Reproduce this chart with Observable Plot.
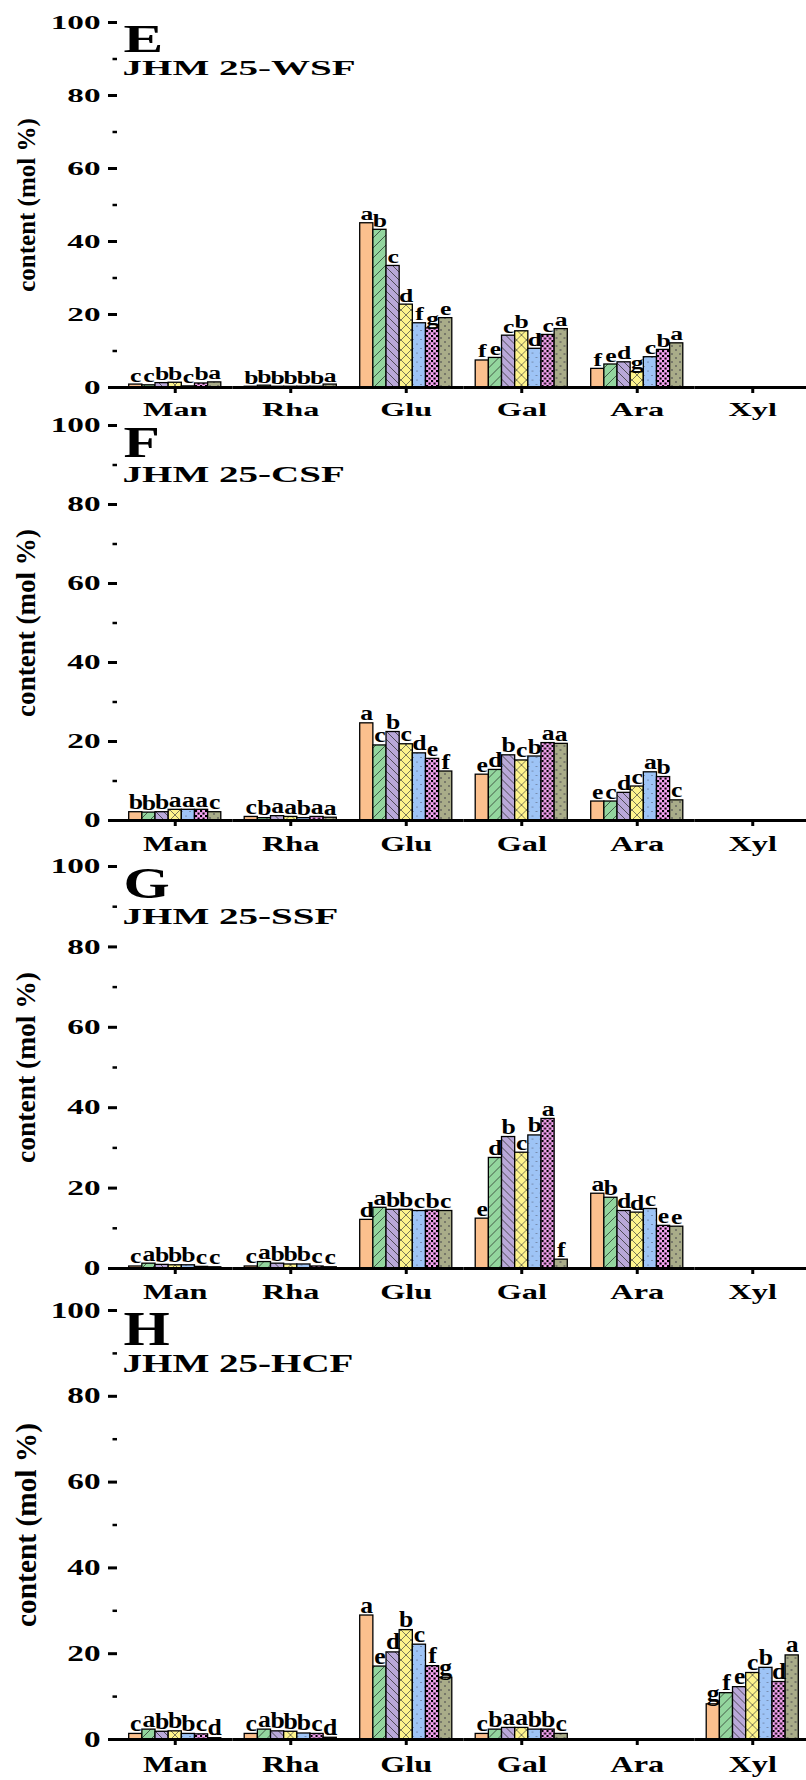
<!DOCTYPE html>
<html>
<head>
<meta charset="utf-8">
<script src="https://cdn.jsdelivr.net/npm/d3@7"></script>
<script src="https://cdn.jsdelivr.net/npm/@observablehq/plot@0.6"></script>
<style>
html, body { margin: 0; padding: 0; background: #fff; overflow: hidden; }
#wrap { position: relative; width: 806px; height: 1780px; overflow: hidden; background: #fff; }
.panel { position: absolute; left: 0; }
</style>
</head>
<body>
<svg width="0" height="0" style="position:absolute">
  <defs>
    <pattern id="pat0" width="8" height="8" patternUnits="userSpaceOnUse">
      <rect width="8" height="8" fill="#FBC08E"/>
    </pattern>
    <pattern id="pat1" width="10" height="10" patternUnits="userSpaceOnUse">
      <rect width="10" height="10" fill="#93D59E"/>
      <path d="M0,10 L10,0 M-2,2 L2,-2 M8,12 L12,8" stroke="#2f3a30" stroke-width="0.8"/>
    </pattern>
    <pattern id="pat2" width="8" height="8" patternUnits="userSpaceOnUse">
      <rect width="8" height="8" fill="#B9A8D9"/>
      <path d="M0,0 L8,8 M-2,6 L2,10 M6,-2 L10,2" stroke="#333" stroke-width="0.8"/>
    </pattern>
    <pattern id="pat3" width="10" height="10" patternUnits="userSpaceOnUse">
      <rect width="10" height="10" fill="#FDF38C"/>
      <path d="M0,0 L10,10 M10,0 L0,10" stroke="#444" stroke-width="0.7"/>
    </pattern>
    <pattern id="pat4" width="8" height="9" patternUnits="userSpaceOnUse">
      <rect width="8" height="9" fill="#9EC4F6"/>
      <circle cx="2" cy="2" r="0.55" fill="#445"/>
      <circle cx="6" cy="6.5" r="0.55" fill="#445"/>
    </pattern>
    <pattern id="pat5" width="5" height="5" patternUnits="userSpaceOnUse">
      <rect width="5" height="5" fill="#F4A2EF"/>
      <rect x="0" y="0" width="2.1" height="2.1" fill="#000"/>
      <rect x="2.5" y="2.5" width="2.1" height="2.1" fill="#000"/>
    </pattern>
    <pattern id="pat6" width="8" height="8" patternUnits="userSpaceOnUse">
      <rect width="8" height="8" fill="#A9AC89"/>
      <path d="M1,1 L3,3 M3,1 L1,3 M5,5 L7,7 M7,5 L5,7" stroke="#555" stroke-width="0.6"/>
    </pattern>
  </defs>
</svg>
<div id="wrap"></div>
<script>
// Categories and series
const sugars = ["Man", "Rha", "Glu", "Gal", "Ara", "Xyl"];
const treatments = ["T1", "T2", "T3", "T4", "T5", "T6", "T7"];

// Panel labels
const panelLetters = ["E", "F", "G", "H"];
const panelNames = ["JHM 25-WSF", "JHM 25-CSF", "JHM 25-SSF", "JHM 25-HCF"];
const yTicks = [0, 20, 40, 60, 80, 100];
const yMinorTicks = [10, 30, 50, 70, 90];
const yLabel = "content (mol %)";

// Values (mol %), rows = sugars, columns = treatments
const valuesE = [
  [0.8, 0.6, 1.2, 1.3, 0.3, 1.1, 1.4],
  [0.2, 0.5, 0.2, 0.2, 0.2, 0.2, 0.8],
  [45.0, 43.2, 33.3, 22.7, 17.6, 16.2, 19.0],
  [7.4, 8.1, 14.2, 15.4, 10.6, 14.4, 16.0],
  [5.1, 6.3, 6.9, 4.2, 8.3, 10.3, 12.1],
  [0, 0, 0, 0, 0, 0, 0]
];
const lettersE = [
  ["c", "c", "b", "b", "c", "b", "a"],
  ["b", "b", "b", "b", "b", "b", "a"],
  ["a", "b", "c", "d", "f", "g", "e"],
  ["f", "e", "c", "b", "d", "c", "a"],
  ["f", "e", "d", "g", "c", "b", "a"],
  ["", "", "", "", "", "", ""]
];

const valuesF = [
  [2.1, 2.0, 2.1, 2.7, 2.7, 2.7, 2.1],
  [0.9, 0.6, 1.1, 0.9, 0.6, 0.9, 0.7],
  [24.6, 19.0, 22.4, 19.3, 17.0, 15.6, 12.4],
  [11.6, 12.8, 16.5, 15.2, 16.2, 19.6, 19.4],
  [4.8, 4.8, 7.0, 8.6, 12.2, 11.0, 5.1],
  [0, 0, 0, 0, 0, 0, 0]
];
const lettersF = [
  ["b", "b", "b", "a", "a", "a", "c"],
  ["c", "b", "a", "a", "b", "a", "a"],
  ["a", "c", "b", "c", "d", "e", "f"],
  ["e", "d", "b", "c", "b", "a", "a"],
  ["e", "c", "d", "c", "a", "b", "c"],
  ["", "", "", "", "", "", ""]
];

const valuesG = [
  [0.5, 1.2, 0.9, 0.8, 0.8, 0.4, 0.3],
  [0.5, 1.6, 1.2, 1.0, 1.0, 0.5, 0.3],
  [12.1, 15.1, 14.6, 14.6, 14.3, 14.4, 14.3],
  [12.4, 27.5, 32.7, 28.8, 33.1, 37.2, 2.2],
  [18.6, 17.6, 14.3, 13.9, 14.8, 10.6, 10.4],
  [0, 0, 0, 0, 0, 0, 0]
];
const lettersG = [
  ["c", "a", "b", "b", "b", "c", "c"],
  ["c", "a", "b", "b", "b", "c", "c"],
  ["d", "a", "b", "b", "c", "b", "c"],
  ["e", "d", "b", "c", "b", "a", "f"],
  ["a", "b", "d", "d", "c", "e", "e"],
  ["", "", "", "", "", "", ""]
];

const valuesH = [
  [1.3, 2.3, 1.8, 1.9, 1.3, 1.2, 0.3],
  [1.3, 2.3, 1.9, 1.8, 1.4, 1.3, 0.4],
  [28.9, 17.0, 20.3, 25.5, 22.1, 17.1, 14.4],
  [1.3, 2.3, 2.7, 2.7, 2.3, 2.3, 1.3],
  [0, 0, 0, 0, 0, 0, 0],
  [8.2, 10.8, 12.2, 15.5, 16.7, 13.4, 19.6]
];
const lettersH = [
  ["c", "a", "b", "b", "b", "c", "d"],
  ["c", "a", "b", "b", "b", "c", "d"],
  ["a", "e", "d", "b", "c", "f", "g"],
  ["c", "b", "a", "a", "b", "b", "c"],
  ["", "", "", "", "", "", ""],
  ["g", "f", "e", "c", "b", "d", "a"]
];

const panelValues = [valuesE, valuesF, valuesG, valuesH];
const panelSig = [lettersE, lettersF, lettersG, lettersH];

// layout of the four stacked panels (page pixels)
const layout = [
  {top: 0,    mt: 22, zero: 387,  mb: 35},
  {top: 400,  mt: 25, zero: 820,  mb: 35},
  {top: 840,  mt: 26, zero: 1268, mb: 35},
  {top: 1280, mt: 30, zero: 1739, mb: 41}
];

const wrap = document.getElementById("wrap");

function stretchText(svg, k) {
  svg.querySelectorAll("text").forEach(t => {
    const s = t.textContent;
    let f = 0;
    if (s === yLabel) f = 0;
    else if (sugars.includes(s)) f = 1.7;
    else if (panelLetters.includes(s)) f = 1.45;
    else if (panelNames.includes(s)) f = 1.86;
    else if (/^\d+$/.test(s)) f = 1.75;
    else if (/^[a-g]+$/.test(s)) f = 1.35;
    if (!f) return;
    const x = parseFloat(t.getAttribute("x")) || 0;
    const y = parseFloat(t.getAttribute("y")) || 0;
    const tr = t.getAttribute("transform") || "";
    t.setAttribute("transform", `${tr} translate(${x},${y}) scale(${(f / k).toFixed(3)},1) translate(${-x},${-y})`);
  });
}

layout.forEach((L, p) => {
  const height = L.zero - L.top + L.mb;
  const k = (L.zero - L.top - L.mt) / 365;
  const rows = [];
  sugars.forEach((s, i) => treatments.forEach((t, j) => {
    rows.push({sugar: s, trt: t, value: panelValues[p][i][j], sig: panelSig[p][i][j], pat: "url(#pat" + j + ")"});
  }));

  const svg = Plot.plot({
    width: 810,
    height,
    marginLeft: 117,
    marginRight: 0,
    marginTop: L.mt,
    marginBottom: L.mb,
    style: "background:transparent;overflow:visible;max-width:none;font-family:'Liberation Serif','Times New Roman',serif;font-weight:bold;color:#000;",
    fx: {domain: sugars, padding: 0, round: false, label: null},
    x: {domain: treatments, paddingInner: 0, paddingOuter: 0.89, round: false, axis: null},
    y: {domain: [0, 100]},
    color: {type: "identity"},
    marks: [
      Plot.barY(rows.filter(d => d.value > 0), {fx: "sugar", x: "trt", y: "value", fill: "pat", stroke: "#000", strokeWidth: 1.3}),
      Plot.text(rows, {fx: "sugar", x: "trt", y: "value", text: "sig", dy: -3, lineAnchor: "bottom", fontSize: 19 * k, fill: "#000"}),
      Plot.ruleY([0], {strokeWidth: 3}),
      Plot.axisY({ticks: yTicks, tickSize: 9, tickPadding: 8, strokeWidth: 3, line: true, fontSize: 19 * k, label: null}),
      Plot.axisY({ticks: yMinorTicks, tickSize: 4.5, strokeWidth: 2.5, tickFormat: () => "", label: null}),
      Plot.axisFx({anchor: "bottom", tickSize: 6, tickPadding: 9 * k, strokeWidth: 3, fontSize: 19 * k, label: null}),
      Plot.text([{sugar: "Man"}], {fx: "sugar", frameAnchor: "left", rotate: -90, text: () => yLabel, textAnchor: "middle", lineAnchor: "middle", dx: -91, fontSize: 25 * k}),
      Plot.text([{sugar: "Man", t: panelLetters[p]}], {fx: "sugar", frameAnchor: "top-left", text: "t", textAnchor: "start", lineAnchor: "bottom", dx: 6, dy: 29 * k, fontSize: 41 * k}),
      Plot.text([{sugar: "Man", t: panelNames[p]}], {fx: "sugar", frameAnchor: "top-left", text: "t", textAnchor: "start", lineAnchor: "bottom", dx: 5, dy: 52 * k, fontSize: 21 * k})
    ]
  });

  stretchText(svg, k);

  const div = document.createElement("div");
  div.className = "panel";
  div.style.top = L.top + "px";
  div.appendChild(svg);
  wrap.appendChild(div);
});
</script>
</body>
</html>
